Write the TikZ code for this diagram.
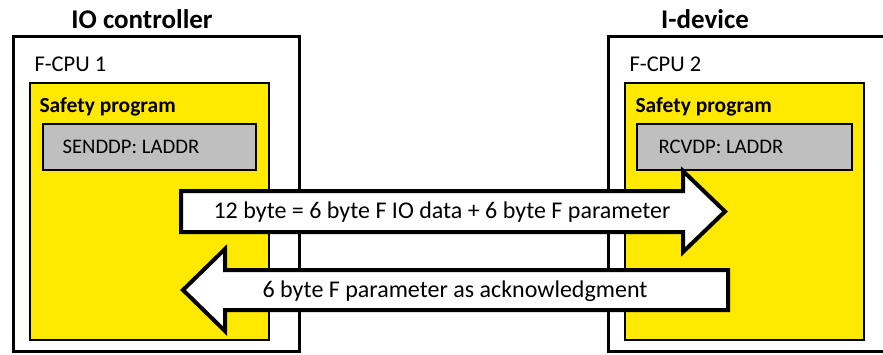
\documentclass[tikz,border=0pt]{standalone}
\usepackage{fontspec}
\setmainfont{Carlito}
\definecolor{fyellow}{RGB}{255,233,0}
\definecolor{fgray}{RGB}{191,191,191}
\begin{document}
\begin{tikzpicture}[x=1pt,y=-1pt,
  outerbox/.style={draw=black,line width=3pt,fill=white},
  progbox/.style={draw=black,line width=2pt,fill=fyellow},
  blockbox/.style={draw=black,line width=2pt,fill=fgray},
  flow/.style={draw=black,line width=4pt,fill=white,line join=miter},
  title/.style={font=\fontsize{27}{31}\selectfont\bfseries},
  cpu/.style={anchor=west,font=\fontsize{22.5}{26}\selectfont},
  prog/.style={anchor=west,font=\fontsize{21.5}{25}\selectfont\bfseries},
  block/.style={anchor=west,font=\fontsize{20.7}{24}\selectfont},
  flowtext/.style={font=\fontsize{24}{28}\selectfont}]
\useasboundingbox (0,0) rectangle (883,354);
\clip (0,0) rectangle (883,354);

% controller side
\node[title] (t1) at (142,19) {IO controller};
\draw[outerbox] (13,36) rectangle (299,351);
\node[cpu] (c1) at (31,64) {F-CPU 1};
\draw[progbox] (30,83) rectangle (269,340);
\node[prog] (p1) at (36,107) {Safety program};
\draw[blockbox] (43,124) rectangle (256,170);
\node[block] (b1) at (59,147) {SENDDP: LADDR};

% device side
\node[title] (t2) at (705,19) {I-device};
\draw[outerbox] (608,36) rectangle (900,351);
\node[cpu] (c2) at (626,64) {F-CPU 2};
\draw[progbox] (625,83) rectangle (864,340);
\node[prog] (p2) at (632,107) {Safety program};
\draw[blockbox] (637,124) rectangle (852,170);
\node[block] (b2) at (655,147) {RCVDP: LADDR};

% data flow: controller -> device
\draw[flow] (181,191) -- (683,191) -- (683,171) -- (725,211.5)
  -- (683,252) -- (683,232) -- (181,232) -- cycle;
\node[flowtext] (f1) at (442,212) {12 byte = 6 byte F IO data + 6 byte F parameter};

% acknowledgement: device -> controller
\draw[flow] (728,270) -- (225,270) -- (225,249) -- (183,290)
  -- (225,331) -- (225,310) -- (728,310) -- cycle;
\node[flowtext] (f2) at (455,291) {6 byte F parameter as acknowledgment};
\end{tikzpicture}
\end{document}
